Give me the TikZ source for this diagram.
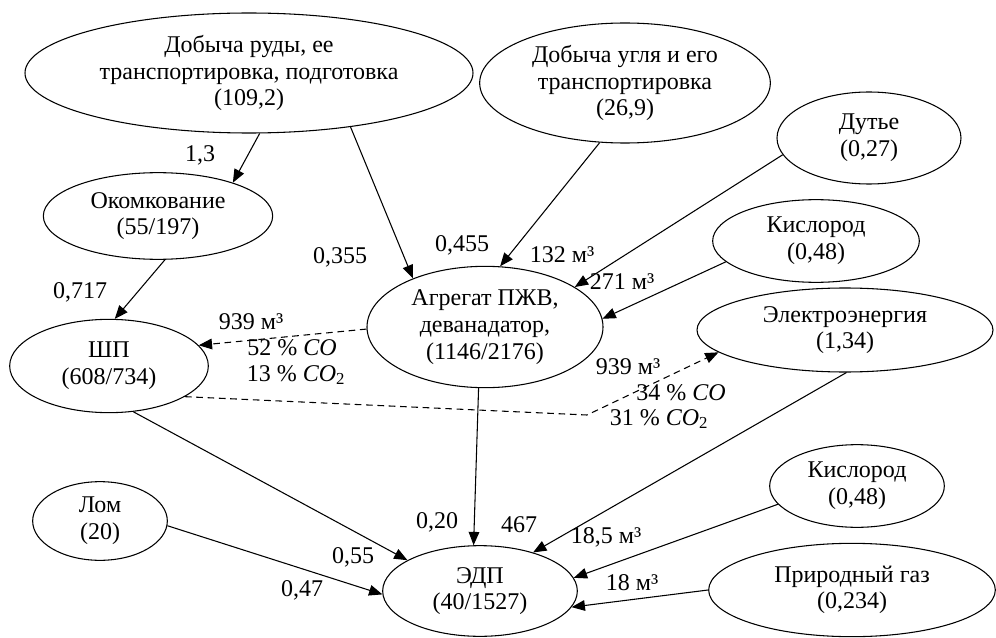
\documentclass[tikz,border=0pt]{standalone}
\usepackage{fontspec}
\setmainfont{Liberation Serif}
\usetikzlibrary{shapes.geometric,arrows.meta}

\begin{document}
\begin{tikzpicture}
  [x=0.75pt,y=-0.75pt,line width=0.8pt,
   every node/.style={font=\fontsize{18}{20}\selectfont,inner sep=0pt},
   unit/.style={ellipse,draw,align=center},
   flow/.style={-{Triangle[length=10pt,width=8pt]}},
   gas/.style={flow,dash pattern=on 5pt off 3.5pt}]
  \useasboundingbox (0,0) rectangle (996,638);

  \node[unit,minimum width=336pt,minimum height=90pt] (ore) at (249,73) {Добыча руды, ее\\транспортировка, подготовка\\(109,2)};
  \node[unit,minimum width=218pt,minimum height=90pt] (coal) at (625,83) {Добыча угля и его\\транспортировка\\(26,9)};
  \node[unit,minimum width=138pt,minimum height=69pt] (blast) at (869,138) {Дутье\\(0,27)};
  \node[unit,minimum width=155pt,minimum height=62pt] (oxy1) at (816,241) {Кислород\\(0,48)};
  \node[unit,minimum width=172pt,minimum height=65pt] (pel) at (158,216) {Окомкование\\(55/197)};
  \node[unit,minimum width=177pt,minimum height=91pt] (pzv) at (485,327) {Агрегат ПЖВ,\\деванадатор,\\(1146/2176)};
  \node[unit,minimum width=149pt,minimum height=70pt] (shp) at (109,366) {ШП\\(608/734)};
  \node[unit,minimum width=222pt,minimum height=63pt] (elec) at (845,330) {Электроэнергия\\(1,34)};
  \node[unit,minimum width=101pt,minimum height=59pt] (scrap) at (100,521) {Лом\\(20)};
  \node[unit,minimum width=146pt,minimum height=68pt] (edp) at (480,591) {ЭДП\\(40/1527)};
  \node[unit,minimum width=131pt,minimum height=62pt] (oxy2) at (857,486) {Кислород\\(0,48)};
  \node[unit,minimum width=215pt,minimum height=70pt] (ngas) at (852,590) {Природный газ\\(0,234)};

  \foreach \from/\to in {ore.-80/pel.24, ore.-28/pzv.146, coal.-113/pzv.76,
      blast.191/pzv.24, oxy1.193/pzv.4, pel.-81/shp.83, shp.-62/edp.157,
      pzv.-96/edp.98, scrap.-4/edp.182, elec.-88/edp.36, oxy2.193/edp.8,
      ngas.180/edp.-10}
    \draw[flow] (\from) -- (\to);

  \coordinate (bend) at (587,415);
  \draw[gas] (pzv.181) -- (shp.13);
  \draw[gas] (shp.-22) -- (bend) -- (elec.190);

  % flow values
  \node (v1) at (200,155) {1,3};
  \node (v2) at (340,257) {0,355};
  \node (v3) at (462,245) {0,455};
  \node (v4) at (562,255) {132 м³};
  \node (v5) at (622,282) {271 м³};
  \node (v6) at (80,292) {0,717};
  \node (v7) at (437,522) {0,20};
  \node (v8) at (353,557) {0,55};
  \node (v9) at (302,590) {0,47};
  \node (v10) at (519,525) {467};
  \node (v11) at (606,537) {18,5 м³};
  \node (v12) at (632,583) {18 м³};

  % gas composition
  \node (g1) at (251,322) {939 м³};
  \node (g2) at (292,348) {52 \% \textit{CO}};
  \node (g3) at (296,375) {13 \% \textit{CO}\textsubscript{2}};
  \node (g4) at (628,367) {939 м³};
  \node (g5) at (681,393) {34 \% \textit{CO}};
  \node (g6) at (659,419) {31 \% \textit{CO}\textsubscript{2}};
\end{tikzpicture}
\end{document}
